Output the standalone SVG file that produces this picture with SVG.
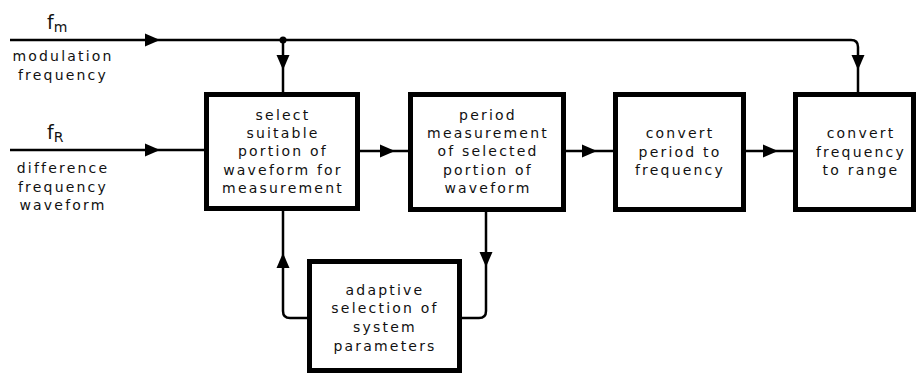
<svg xmlns="http://www.w3.org/2000/svg" width="920" height="375" viewBox="0 0 920 375">
  <style>
    .box { fill: #fff; stroke: #000; stroke-width: 5; }
    .wire { fill: none; stroke: #000; stroke-width: 2.5; stroke-linejoin: round; }
    text { font-family: "DejaVu Sans", "Liberation Sans", sans-serif; font-size: 14px; letter-spacing: 2.2px; fill: #111; }
    .c { text-anchor: middle; }
    .sym { letter-spacing: 0; font-size: 19px; }
    .sub { font-size: 14px; }
  </style>
  <defs>
    <!-- filled arrowhead, tip at the origin, pointing along +x -->
    <path id="ah" d="M0,0 L-15,-6.5 L-15,6.5 Z" fill="#000"/>
  </defs>

  <g id="connectors">
    <!-- modulation frequency bus, tapped to the first and last blocks -->
    <path class="wire" d="M10,40 H851 Q858,40 858,47 V92"/>
    <circle cx="283" cy="40" r="3.5" fill="#000"/>
    <path class="wire" d="M283,40 V92"/>
    <use href="#ah" transform="translate(160,40)"/>
    <use href="#ah" transform="translate(283,70) rotate(90)"/>
    <use href="#ah" transform="translate(858,70) rotate(90)"/>

    <!-- difference frequency input -->
    <path class="wire" d="M10,150 H204"/>
    <use href="#ah" transform="translate(160,150)"/>

    <!-- main chain -->
    <path class="wire" d="M360,151 H408"/>
    <use href="#ah" transform="translate(395,151)"/>
    <path class="wire" d="M566,151 H613"/>
    <use href="#ah" transform="translate(597,151)"/>
    <path class="wire" d="M746,151 H793"/>
    <use href="#ah" transform="translate(778,151)"/>

    <!-- adaptive feedback loop -->
    <path class="wire" d="M309,318 H290 Q283,318 283,311 V211"/>
    <use href="#ah" transform="translate(283,253) rotate(-90)"/>
    <path class="wire" d="M486,211 V311 Q486,318 479,318 H462"/>
    <use href="#ah" transform="translate(486,267) rotate(90)"/>
  </g>

  <g id="input-fm">
    <text class="sym" x="47" y="29">f<tspan class="sub" dy="3">m</tspan></text>
    <text class="c" x="63" y="61">modulation</text>
    <text class="c" x="63" y="80">frequency</text>
  </g>

  <g id="input-fr">
    <text class="sym" x="47" y="139">f<tspan class="sub" dy="3">R</tspan></text>
    <text class="c" x="63" y="173">difference</text>
    <text class="c" x="63" y="192">frequency</text>
    <text class="c" x="63" y="210">waveform</text>
  </g>

  <g id="select-portion">
    <rect class="box" x="206.5" y="94.5" width="151" height="114"/>
    <text class="c" x="283" y="120">select</text>
    <text class="c" x="283" y="138">suitable</text>
    <text class="c" x="283" y="156">portion of</text>
    <text class="c" x="283" y="175">waveform for</text>
    <text class="c" x="283" y="193">measurement</text>
  </g>

  <g id="period-measurement">
    <rect class="box" x="410.5" y="94.5" width="153" height="115"/>
    <text class="c" x="488" y="120">period</text>
    <text class="c" x="488" y="138">measurement</text>
    <text class="c" x="488" y="156">of selected</text>
    <text class="c" x="488" y="175">portion of</text>
    <text class="c" x="488" y="193">waveform</text>
  </g>

  <g id="period-to-frequency">
    <rect class="box" x="615.5" y="94.5" width="128" height="115"/>
    <text class="c" x="680" y="138">convert</text>
    <text class="c" x="680" y="157">period to</text>
    <text class="c" x="680" y="175">frequency</text>
  </g>

  <g id="frequency-to-range">
    <rect class="box" x="795.5" y="94.5" width="118" height="115"/>
    <text class="c" x="861" y="138">convert</text>
    <text class="c" x="861" y="157">frequency</text>
    <text class="c" x="861" y="175">to range</text>
  </g>

  <g id="adaptive-selection">
    <rect class="box" x="309.5" y="261.5" width="150" height="109"/>
    <text class="c" x="385" y="295">adaptive</text>
    <text class="c" x="385" y="313">selection of</text>
    <text class="c" x="385" y="332">system</text>
    <text class="c" x="385" y="351">parameters</text>
  </g>
</svg>
